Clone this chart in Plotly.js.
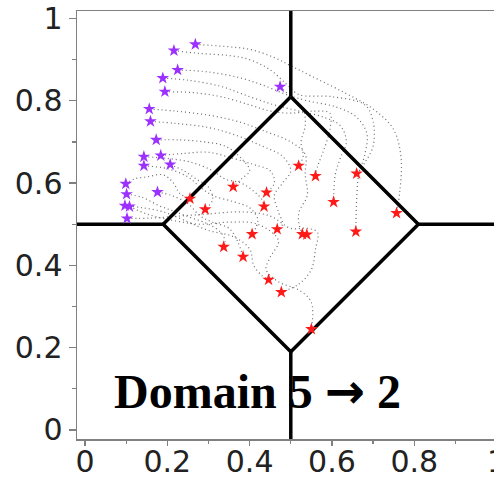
<!DOCTYPE html>
<html>
<head>
<meta charset="utf-8">
<script src="https://cdn.plot.ly/plotly-3.0.1.min.js"></script>
<style>html,body{margin:0;padding:0;overflow:hidden;background:#fff;}</style>
</head>
<body>
<div id="chart" style="width:510px;height:478px;"></div>
<script>
// Tick values and labels
const tickVals = [0, 0.2, 0.4, 0.6, 0.8, 1];
const tickText = ['0', '0.2', '0.4', '0.6', '0.8', '1'];

// Domain boundaries (diamond + outward rays)
const boundaryX = [0.5, 0.81, 0.5, 0.19, 0.5, null, 0.5, 0.5, null, 0.5, 0.5, null, -0.1, 0.19, null, 0.81, 1.1];
const boundaryY = [0.81, 0.5, 0.19, 0.5, 0.81, null, 0.81, 1.1, null, 0.19, -0.1, null, 0.5, 0.5, null, 0.5, 0.5];

// Start points (domain 5) – purple stars
const startX = [0.268, 0.216, 0.225, 0.189, 0.194, 0.474, 0.156, 0.159, 0.173, 0.184, 0.143, 0.143, 0.207, 0.099, 0.101, 0.176, 0.097, 0.108, 0.102];
const startY = [0.937, 0.922, 0.875, 0.855, 0.822, 0.834, 0.780, 0.750, 0.705, 0.667, 0.664, 0.642, 0.645, 0.598, 0.573, 0.578, 0.545, 0.543, 0.514];

// End points (domain 2) – red stars
const endX = [0.519, 0.560, 0.660, 0.360, 0.441, 0.255, 0.604, 0.292, 0.435, 0.757, 0.467, 0.406, 0.528, 0.539, 0.658, 0.337, 0.384, 0.446, 0.477, 0.550];
const endY = [0.642, 0.617, 0.623, 0.591, 0.577, 0.562, 0.554, 0.536, 0.543, 0.527, 0.488, 0.476, 0.476, 0.475, 0.482, 0.445, 0.421, 0.365, 0.335, 0.245];

// Trajectories (x, y pairs)
const traj1 = [[0.268,0.937],[0.34,0.932],[0.40,0.925],[0.46,0.905],[0.50,0.885],[0.55,0.86],[0.63,0.82],[0.70,0.78],[0.75,0.73],[0.768,0.66],[0.765,0.58],[0.757,0.527]];
const traj2 = [[0.216,0.922],[0.28,0.915],[0.35,0.91],[0.40,0.90],[0.45,0.875],[0.49,0.84],[0.52,0.815],[0.60,0.81],[0.68,0.79],[0.70,0.75],[0.70,0.69],[0.68,0.65],[0.660,0.623]];
const traj3 = [[0.225,0.875],[0.30,0.87],[0.38,0.855],[0.44,0.835],[0.49,0.815],[0.54,0.80],[0.61,0.785],[0.66,0.76],[0.685,0.72],[0.68,0.67],[0.665,0.62],[0.66,0.56],[0.658,0.482]];
const traj4 = [[0.189,0.855],[0.25,0.85],[0.33,0.835],[0.40,0.81],[0.46,0.79],[0.52,0.775],[0.58,0.76],[0.62,0.74],[0.635,0.70],[0.62,0.66],[0.608,0.62],[0.604,0.554]];
const traj5 = [[0.194,0.822],[0.26,0.82],[0.33,0.81],[0.40,0.79],[0.45,0.775],[0.50,0.77],[0.56,0.775],[0.595,0.77],[0.595,0.73],[0.58,0.68],[0.565,0.64],[0.560,0.617]];
const traj6 = [[0.474,0.834],[0.50,0.81],[0.53,0.78],[0.535,0.74],[0.525,0.70],[0.53,0.665],[0.519,0.642]];
const traj7 = [[0.156,0.780],[0.22,0.775],[0.30,0.765],[0.37,0.75],[0.44,0.725],[0.50,0.70],[0.535,0.67],[0.535,0.62],[0.54,0.57],[0.52,0.53],[0.52,0.50],[0.528,0.476]];
const traj8 = [[0.159,0.750],[0.22,0.745],[0.30,0.735],[0.37,0.715],[0.43,0.69],[0.48,0.665],[0.50,0.63],[0.48,0.60],[0.46,0.57],[0.47,0.53],[0.48,0.50],[0.467,0.488]];
const traj9 = [[0.173,0.705],[0.23,0.705],[0.29,0.70],[0.34,0.69],[0.38,0.66],[0.40,0.63],[0.38,0.61],[0.360,0.591]];
const traj10 = [[0.184,0.667],[0.24,0.672],[0.30,0.675],[0.36,0.66],[0.41,0.645],[0.45,0.63],[0.46,0.60],[0.441,0.577]];
const traj11 = [[0.143,0.664],[0.20,0.66],[0.26,0.65],[0.31,0.63],[0.34,0.61],[0.38,0.60],[0.41,0.58],[0.43,0.56],[0.435,0.543]];
const traj12 = [[0.143,0.642],[0.20,0.635],[0.25,0.615],[0.28,0.59],[0.31,0.57],[0.36,0.555],[0.40,0.54],[0.42,0.51],[0.406,0.476]];
const traj13 = [[0.207,0.645],[0.24,0.63],[0.27,0.61],[0.30,0.59],[0.31,0.56],[0.292,0.536]];
const traj14 = [[0.099,0.598],[0.12,0.61],[0.15,0.615],[0.19,0.62],[0.215,0.60],[0.23,0.575],[0.255,0.562]];
const traj15 = [[0.101,0.573],[0.14,0.565],[0.18,0.545],[0.22,0.53],[0.26,0.515],[0.30,0.50],[0.33,0.48],[0.34,0.46],[0.337,0.445]];
const traj16 = [[0.176,0.578],[0.21,0.57],[0.25,0.55],[0.28,0.52],[0.31,0.505],[0.35,0.49],[0.37,0.46],[0.384,0.421]];
const traj17 = [[0.097,0.545],[0.14,0.54],[0.19,0.53],[0.24,0.51],[0.30,0.485],[0.36,0.47],[0.40,0.44],[0.41,0.40],[0.43,0.375],[0.446,0.365]];
const traj18 = [[0.108,0.543],[0.15,0.525],[0.21,0.51],[0.28,0.50],[0.35,0.505],[0.42,0.50],[0.47,0.46],[0.45,0.42],[0.44,0.39],[0.47,0.36],[0.52,0.34],[0.55,0.31],[0.55,0.245]];
const traj19 = [[0.102,0.514],[0.16,0.515],[0.23,0.52],[0.30,0.525],[0.38,0.53],[0.45,0.52],[0.50,0.49],[0.54,0.49],[0.565,0.48],[0.56,0.44],[0.55,0.39],[0.52,0.355],[0.477,0.335]];
const trajectories = [traj1, traj2, traj3, traj4, traj5, traj6, traj7, traj8, traj9, traj10, traj11, traj12, traj13, traj14, traj15, traj16, traj17, traj18, traj19];

const labelStart = 'Domain 5 ';
const labelArrow = '\u2192';
const labelEnd = ' 2';

const traces = [];
trajectories.forEach(function (p) {
  traces.push({
    type: 'scatter', mode: 'lines',
    x: p.map(function (d) { return d[0]; }),
    y: p.map(function (d) { return d[1]; }),
    line: { color: '#6a6a6a', width: 1.2, dash: '1px,3px', shape: 'spline', smoothing: 1 },
    hoverinfo: 'skip', showlegend: false
  });
});
traces.push({
  type: 'scatter', mode: 'lines', x: boundaryX, y: boundaryY,
  line: { color: '#000', width: 3.5 }, hoverinfo: 'skip', showlegend: false
});
traces.push({
  type: 'scatter', mode: 'markers', x: startX, y: startY,
  marker: { symbol: 'star', size: 9.5, color: '#9b30ff', line: { width: 0 } },
  showlegend: false
});
traces.push({
  type: 'scatter', mode: 'markers', x: endX, y: endY,
  marker: { symbol: 'star', size: 9.5, color: '#ff1a1a', line: { width: 0 } },
  showlegend: false
});

const tickFont = { family: 'DejaVu Sans', size: 30, color: '#222' };

const layout = {
  width: 510, height: 478,
  margin: { l: 77, r: 5, t: 11, b: 39, pad: 0 },
  paper_bgcolor: '#fff', plot_bgcolor: '#fff',
  showlegend: false,
  xaxis: {
    range: [-0.0195, 1.0205], showgrid: false, zeroline: false,
    tickvals: tickVals, ticktext: tickText, tickfont: tickFont,
    ticks: 'outside', ticklen: 5, tickwidth: 1.3, tickcolor: '#808080',
    ticklabelstandoff: -10,
    showline: true, linecolor: '#808080', linewidth: 1.5, mirror: true,
    minor: { dtick: 0.1, tick0: 0, ticks: 'outside', ticklen: 3, tickcolor: '#808080', tickwidth: 1.3, showgrid: false }
  },
  yaxis: {
    range: [-0.0219, 1.0182], showgrid: false, zeroline: false,
    tickvals: tickVals, ticktext: tickText, tickfont: tickFont,
    ticks: 'outside', ticklen: 7, tickwidth: 1.3, tickcolor: '#808080',
    showline: true, linecolor: '#808080', linewidth: 1.5, mirror: true,
    minor: { dtick: 0.1, tick0: 0, ticks: 'outside', ticklen: 4, tickcolor: '#808080', tickwidth: 1.3, showgrid: false }
  },
  annotations: [{
    xref: 'x', yref: 'y', x: 0.418, y: 0.095, xanchor: 'center', yanchor: 'middle',
    text: '<b>' + labelStart + '<span style="font-family:\'DejaVu Sans\'">' + labelArrow + '</span>' + labelEnd + '</b>',
    showarrow: false,
    font: { family: 'Liberation Serif', size: 48, color: '#000' }
  }]
};

Plotly.newPlot('chart', traces, layout, { displayModeBar: false, staticPlot: true });
</script>
</body>
</html>
